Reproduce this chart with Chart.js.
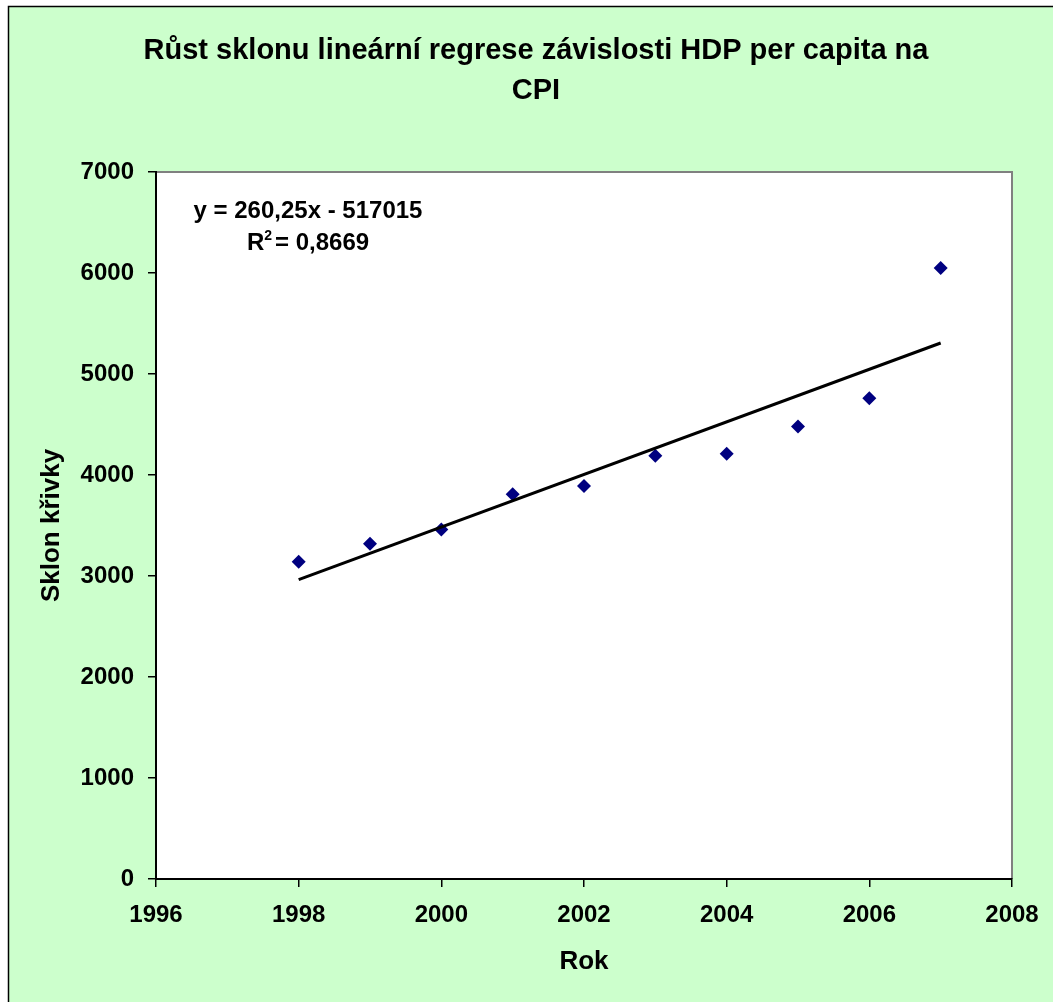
<!DOCTYPE html>
<html>
<head>
<meta charset="utf-8">
<script src="https://cdn.jsdelivr.net/npm/chart.js@4.4.0/dist/chart.umd.min.js"></script>
<style>
  body { margin: 0; background: #fff; }
  canvas { display: block; }
</style>
</head>
<body>
<canvas id="chart" width="1053" height="1002"></canvas>
<script>
// data
var years = [1998, 1999, 2000, 2001, 2002, 2003, 2004, 2005, 2006, 2007];
var slopes = [3140, 3320, 3460, 3810, 3890, 4190, 4210, 4480, 4760, 6050];
// linear trend end points (y = 260,25x - 517015)
var trendYears = [1998, 2007];
var trendValues = [2965, 5307];
var titleLines = ['Růst sklonu lineární regrese závislosti HDP per capita na', 'CPI'];
var equationText = 'y = 260,25x - 517015';
var r2Text = '= 0,8669';

var FONT = '"Liberation Sans", Arial, sans-serif';

var pts = years.map(function (x, i) { return { x: x, y: slopes[i] }; });
var trendPts = trendYears.map(function (x, i) { return { x: x, y: trendValues[i] }; });

// green chart background, white plot area, title and equation label
var frame = {
  id: 'frame',
  beforeDraw: function (chart) {
    var c = chart.ctx, a = chart.chartArea;
    c.save();
    c.fillStyle = '#ffffff';
    c.fillRect(0, 0, chart.width, chart.height);
    c.fillStyle = '#ccffcc';
    c.fillRect(8, 6, chart.width, chart.height);
    c.strokeStyle = '#000';
    c.lineWidth = 1.5;
    c.strokeRect(8.5, 6.5, chart.width + 10, chart.height + 10);
    c.fillStyle = '#ffffff';
    c.fillRect(a.left, a.top, a.right - a.left, a.bottom - a.top);
    c.strokeStyle = '#808080';
    c.lineWidth = 2;
    c.beginPath();
    c.moveTo(a.left, a.top);
    c.lineTo(a.right, a.top);
    c.lineTo(a.right, a.bottom);
    c.stroke();
    // title
    c.fillStyle = '#000';
    c.font = 'bold 29px ' + FONT;
    c.textAlign = 'center';
    c.textBaseline = 'middle';
    titleLines.forEach(function (t, i) { c.fillText(t, 536, 51 + i * 40); });
    c.restore();
  },
  afterDatasetsDraw: function (chart) {
    var c = chart.ctx, a = chart.chartArea;
    var cx = a.left + 152;
    c.save();
    c.fillStyle = '#000';
    c.textBaseline = 'alphabetic';
    c.font = 'bold 24px ' + FONT;
    c.textAlign = 'center';
    c.fillText(equationText, cx, a.top + 46);
    // R² line
    var wR = c.measureText('R').width;
    var wRest = c.measureText(r2Text).width;
    c.font = 'bold 14px ' + FONT;
    var wSup = c.measureText('2').width;
    var x0 = cx - (wR + wSup + 3 + wRest) / 2;
    c.textAlign = 'left';
    c.font = 'bold 24px ' + FONT;
    c.fillText('R', x0, a.top + 78);
    c.font = 'bold 14px ' + FONT;
    c.fillText('2', x0 + wR, a.top + 68);
    c.font = 'bold 24px ' + FONT;
    c.fillText(r2Text, x0 + wR + wSup + 3, a.top + 78);
    c.restore();
  }
};

new Chart(document.getElementById('chart'), {
  type: 'scatter',
  data: {
    datasets: [{
      type: 'line',
      data: trendPts,
      borderColor: '#000',
      borderWidth: 3,
      pointRadius: 0,
      fill: false
    }, {
      data: pts,
      pointStyle: 'rectRot',
      pointRadius: 7,
      pointBackgroundColor: '#000080',
      pointBorderColor: '#000080',
      pointBorderWidth: 0
    }]
  },
  options: {
    responsive: false,
    animation: false,
    layout: { padding: { left: 0, top: 172, right: 41, bottom: 0 } },
    plugins: {
      legend: { display: false },
      tooltip: { enabled: false },
      title: { display: false }
    },
    scales: {
      x: {
        type: 'linear',
        min: 1996,
        max: 2008,
        afterFit: function (s) { s.height = 123; },
        ticks: {
          stepSize: 2,
          color: '#000',
          padding: 14,
          font: { family: FONT, size: 24, weight: 'bold' },
          callback: function (v) { return String(v); }
        },
        grid: { drawOnChartArea: false, drawTicks: true, tickLength: 8, color: '#000', lineWidth: 1.5 },
        border: { color: '#000', width: 2 },
        title: {
          display: true,
          text: 'Rok',
          color: '#000',
          font: { family: FONT, size: 26, weight: 'bold', lineHeight: 1.2 },
          padding: { top: 0, bottom: 25 }
        }
      },
      y: {
        min: 0,
        max: 7000,
        afterFit: function (s) { s.width = 156; },
        ticks: {
          stepSize: 1000,
          color: '#000',
          padding: 14,
          font: { family: FONT, size: 24, weight: 'bold' },
          callback: function (v) { return String(v); }
        },
        grid: { drawOnChartArea: false, drawTicks: true, tickLength: 8, color: '#000', lineWidth: 1.5 },
        border: { color: '#000', width: 2 },
        title: {
          display: true,
          text: 'Sklon křivky',
          color: '#000',
          font: { family: FONT, size: 26, weight: 'bold', lineHeight: 1.2 },
          padding: { top: 36, bottom: 0 }
        }
      }
    }
  },
  plugins: [frame]
});
</script>
</body>
</html>
